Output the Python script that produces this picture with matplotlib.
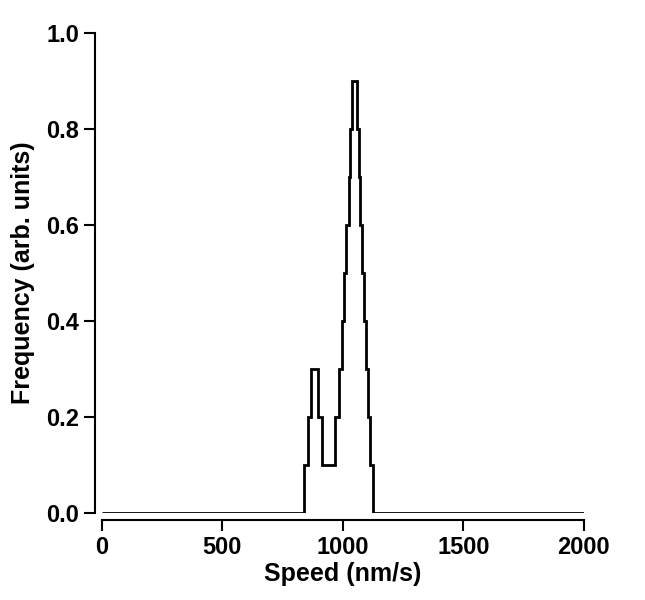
import matplotlib
matplotlib.use("Agg")
import matplotlib.pyplot as plt
import numpy as np

edges = [0, 838, 856, 867, 895, 913, 967, 985, 997, 1005, 1015, 1024, 1030, 1037,
         1058, 1066, 1073, 1081, 1089, 1097, 1105, 1113, 1126, 2000]
levels = [0.0, 0.1, 0.2, 0.3, 0.2, 0.1, 0.2, 0.3, 0.4, 0.5, 0.6, 0.7, 0.8, 0.9,
          0.8, 0.7, 0.6, 0.5, 0.4, 0.3, 0.2, 0.1, 0.0]

plt.rcParams['font.family'] = ['Liberation Sans', 'DejaVu Sans']
fig = plt.figure(figsize=(6.45, 6.0), dpi=100)
ax = fig.add_axes([0.158, 0.145, 0.747, 0.8])
ax.stairs(levels, edges, color='black', lw=2)
ax.set_xlim(0, 2000)
ax.set_ylim(0, 1.0)
for s in ['top', 'right']:
    ax.spines[s].set_visible(False)
for s in ['left', 'bottom']:
    ax.spines[s].set_position(('outward', 5))
    ax.spines[s].set_linewidth(1.5)
ax.set_xticks([0, 500, 1000, 1500, 2000])
ax.set_yticks([0, 0.2, 0.4, 0.6, 0.8, 1.0])
ax.set_yticklabels(['0.0', '0.2', '0.4', '0.6', '0.8', '1.0'])
ax.tick_params(which='major', length=8, width=1.5, labelsize=17)
for t in ax.get_xticklabels() + ax.get_yticklabels():
    t.set_fontweight('bold')
ax.set_xlabel('Speed (nm/s)', fontsize=18, fontweight='bold', labelpad=2)
ax.set_ylabel('Frequency (arb. units)', fontsize=18, fontweight='bold', labelpad=8)
fig.savefig('out.png')
